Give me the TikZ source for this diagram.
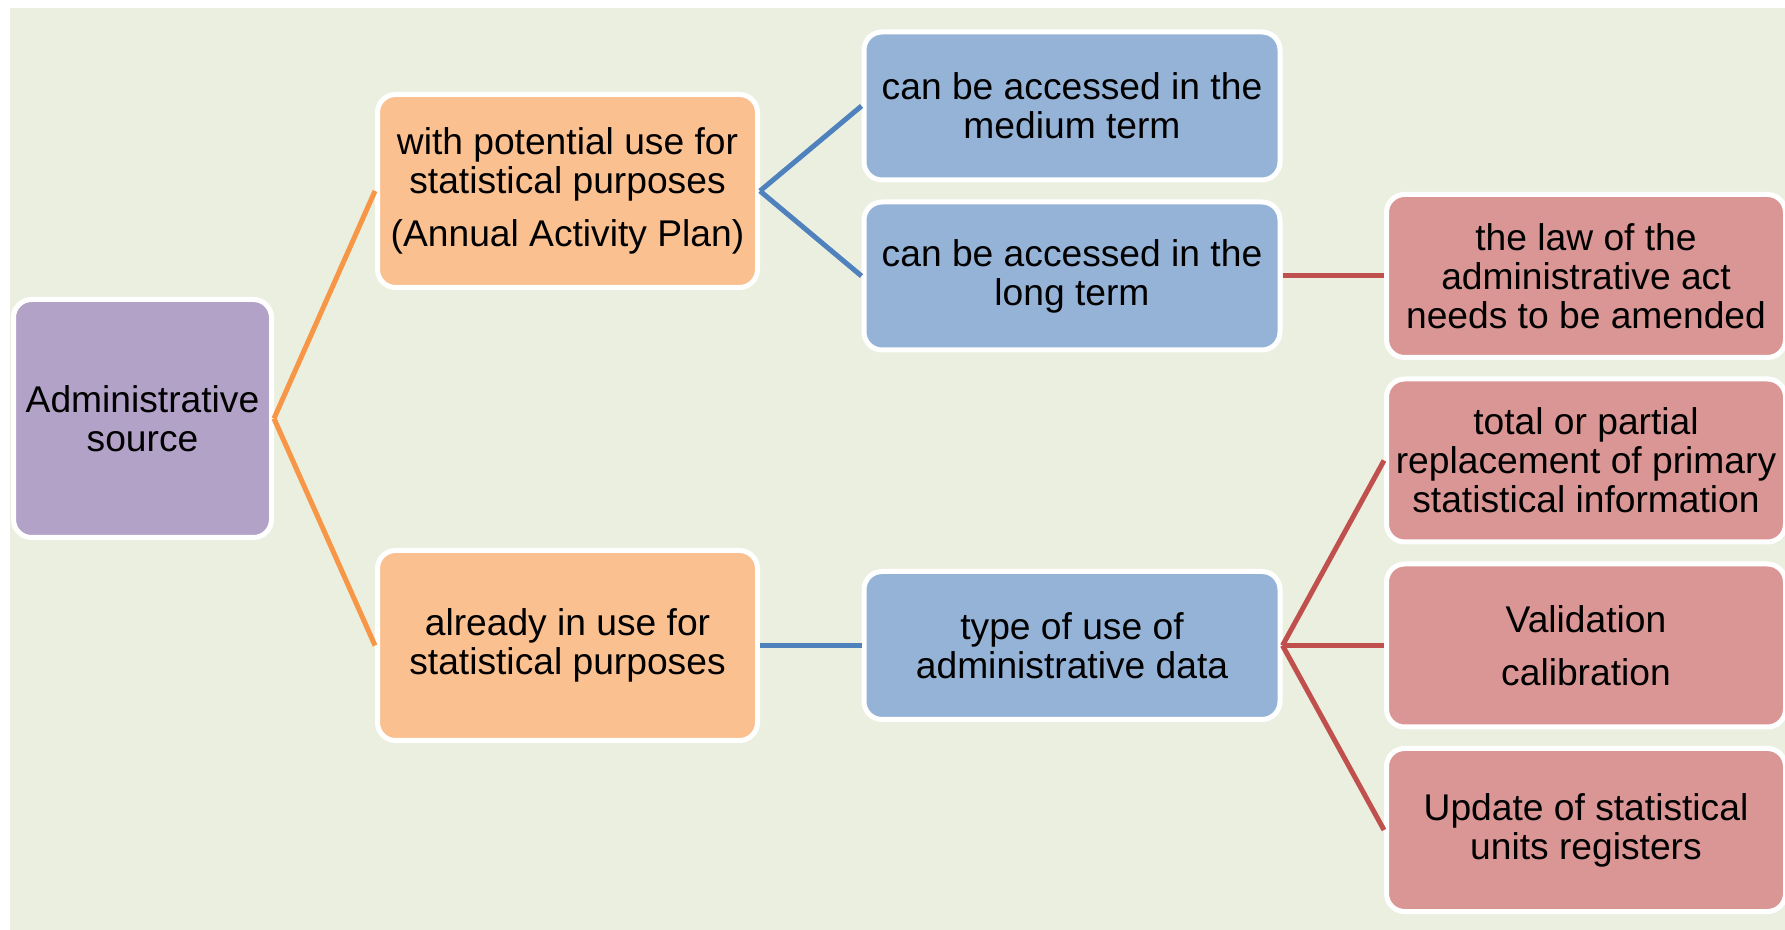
\documentclass[tikz,border=0pt]{standalone}
\usepackage{fontspec}
\setmainfont{Liberation Sans}
\usepackage{tikz}
\usetikzlibrary{shapes.geometric, arrows}
\definecolor{bgcol}{HTML}{EBEFDF}
\definecolor{purplefill}{HTML}{B3A2C7}
\definecolor{orangefill}{HTML}{FAC090}
\definecolor{orangeline}{HTML}{F79646}
\definecolor{bluefill}{HTML}{95B3D7}
\definecolor{blueline}{HTML}{4F81BD}
\definecolor{redfill}{HTML}{D99694}
\definecolor{redline}{HTML}{C0504D}
\tikzstyle{box} = [rectangle, rounded corners=9pt, draw=white, line width=2.5pt, align=center, inner sep=0pt, font=\fontsize{18.6}{19.4}\selectfont]
\tikzstyle{link} = [line width=2.5pt]

\begin{document}
\begin{tikzpicture}[x=0.5pt,y=-0.5pt]

\useasboundingbox (0,0) rectangle (1785,930);
\fill[bgcol] (10,8) rectangle (1785,930);

% boxes
\node[box, fill=purplefill, minimum width=129pt, minimum height=119pt] (admin) at (142.5,418.5) {Administrative\\source};

\node[box, fill=orangefill, minimum width=190pt, minimum height=96.5pt] (otop) at (567.5,191) {with potential use for\\statistical purposes\\[7pt](Annual Activity Plan)};
\node[box, fill=orangefill, minimum width=190pt, minimum height=95pt] (obot) at (567.5,645.5) {already in use for\\statistical purposes};

\node[box, fill=bluefill, minimum width=208pt, minimum height=74pt] (b1) at (1072,106) {can be accessed in the\\medium term};
\node[box, fill=bluefill, minimum width=208pt, minimum height=74pt] (b2) at (1072,276) {can be accessed in the\\long term};
\node[box, fill=bluefill, minimum width=208pt, minimum height=74pt] (b3) at (1072,645.5) {type of use of\\administrative data};

\node[box, fill=redfill, minimum width=199.5pt, minimum height=81.5pt] (r1) at (1586,276) {the law of the\\administrative act\\needs to be amended};
\node[box, fill=redfill, minimum width=199.5pt, minimum height=81.5pt] (r2) at (1586,460.5) {total or partial\\replacement of primary\\statistical information};
\node[box, fill=redfill, minimum width=199.5pt, minimum height=81.5pt] (r3) at (1586,645.5) {Validation\\[7pt]calibration};
\node[box, fill=redfill, minimum width=199.5pt, minimum height=81.5pt] (r4) at (1586,830) {Update of statistical\\units registers};

% connectors
\draw[link, orangeline] (admin.east) -- (otop.west);
\draw[link, orangeline] (admin.east) -- (obot.west);
\draw[link, blueline] (otop.east) -- (b1.west);
\draw[link, blueline] (otop.east) -- (b2.west);
\draw[link, blueline] (obot.east) -- (b3.west);
\draw[link, redline] (b2.east) -- (r1.west);
\draw[link, redline] (b3.east) -- (r2.west);
\draw[link, redline] (b3.east) -- (r3.west);
\draw[link, redline] (b3.east) -- (r4.west);

\end{tikzpicture}
\end{document}
